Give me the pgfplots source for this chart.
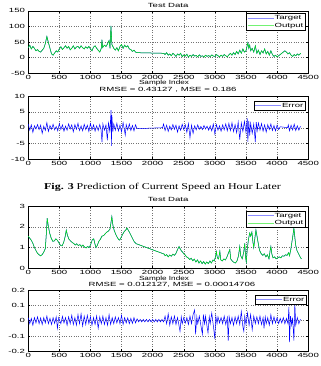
\documentclass[border=0pt]{standalone}
\usepackage{fontspec}
\setmainfont{Liberation Sans}[FakeStretch=1.6]
\newfontfamily\capfont{Liberation Serif}[FakeStretch=1.33]
\usepackage{pgfplots}
\pgfplotsset{compat=1.18}
\usepackage{pgfplotstable}

\definecolor{mblue}{rgb}{0,0,1}
\definecolor{lblue}{rgb}{0.55,0.55,1}
\definecolor{mgreen}{rgb}{0,0.95,0}
\definecolor{lgreen}{rgb}{0.45,0.95,0.45}
\newcommand\mf{\fontsize{6bp}{7bp}\selectfont}

\pgfplotstableread{
x y
0 32
25 40
50 28
75 36
100 30
125 22
150 26
175 20
200 18
225 24
250 30
275 45
300 68
325 48
350 30
375 12
400 8
425 15
450 22
475 18
500 28
525 35
550 26
575 32
600 38
625 30
650 36
675 25
700 30
725 38
750 28
775 34
800 36
825 30
850 38
875 32
900 28
925 35
950 30
975 36
1000 28
1025 22
1050 34
1075 38
1100 30
1125 24
1150 18
1175 30
1185 58
1195 32
1225 40
1250 36
1275 44
1300 55
1315 30
1330 102
1345 42
1375 30
1400 24
1425 32
1450 22
1475 36
1500 42
1525 30
1550 40
1575 34
1600 38
1625 28
1650 26
1675 20
1700 24
1725 18
1750 16
2180 14
2200 10
2225 16
2250 8
2275 12
2300 6
2325 14
2350 10
2375 4
2400 12
2425 8
2450 14
2475 3
2500 9
2525 5
2550 11
2575 2
2600 8
2625 4
2650 10
2675 5
2700 7
2725 3
2750 9
2775 4
2800 6
2825 2
2850 8
2875 4
2900 7
2925 3
2950 9
2975 5
3000 4
3025 10
3050 6
3075 3
3100 8
3125 4
3150 10
3175 6
3200 3
3225 9
3250 14
3275 8
3300 16
3325 10
3350 20
3375 12
3400 24
3425 14
3450 28
3475 18
3500 22
3515 35
3530 48
3545 30
3560 40
3575 22
3600 30
3625 18
3650 38
3675 14
3700 24
3725 10
3750 22
3775 15
3800 28
3825 12
3850 20
3875 8
3900 22
3925 10
3950 4
3975 8
4000 3
4025 6
4050 10
4075 14
4100 18
4125 22
4150 18
4175 12
4200 16
4225 8
4250 4
4275 10
4300 6
4325 12
4350 8
4380 14
}\speedA

\pgfplotstableread{
x y
0 1.2
25 -0.8
50 0.9
75 -1.5
100 0.6
125 -0.4
150 1.0
175 -0.6
200 0.8
225 -1.8
250 0.5
275 -0.9
300 1.6
325 -1.2
350 0.7
375 -0.5
400 1.1
425 -0.7
450 0.4
475 -1.0
500 1.3
525 -0.6
550 0.9
575 -1.1
600 0.5
625 -0.8
650 1.2
675 -0.4
700 0.9
725 -1.3
750 1.0
775 -0.5
800 1.4
825 -0.9
850 0.6
875 -1.0
900 1.1
925 -0.6
950 0.8
975 -1.2
1000 1.3
1025 -0.7
1050 0.9
1075 -1.1
1100 0.6
1125 -0.9
1150 1.0
1170 -0.5
1186 -4.6
1200 1.2
1225 -0.8
1250 0.9
1272 -4.0
1290 1.5
1310 -1.0
1325 3.0
1331 5.6
1337 -5.8
1345 4.0
1360 -1.4
1375 1.2
1400 -0.8
1425 1.4
1450 -1.0
1475 0.8
1500 -1.3
1525 1.6
1545 -0.6
1560 -2.4
1575 1.0
1600 -0.7
1625 1.2
1650 -0.9
1675 0.7
1700 -1.0
1725 0.9
1750 -0.3
2160 0
2175 1.2
2200 -0.9
2225 0.8
2250 -1.2
2275 0.5
2300 -0.7
2325 1.0
2350 -0.5
2375 0.8
2400 -1.4
2425 0.6
2450 -0.8
2475 1.1
2500 -0.6
2525 0.9
2550 -1.5
2575 1.3
2600 -3.2
2625 0.8
2650 -1.8
2675 0.6
2700 -0.7
2725 0.9
2750 -0.5
2775 0.4
2800 -0.6
2825 0.7
2850 -0.4
2875 0.5
2900 -0.8
2925 0.6
2950 -1.0
2975 1.2
3000 -2.0
3025 1.0
3050 -0.8
3075 0.6
3100 -1.1
3125 0.9
3150 -0.7
3175 1.2
3200 -1.0
3225 1.4
3250 -0.9
3275 1.6
3300 -1.2
3325 1.0
3350 -1.6
3375 1.8
3400 -3.8
3425 1.5
3450 -1.2
3475 2.0
3500 -1.5
3520 3.0
3530 -4.5
3545 2.2
3560 -2.5
3575 1.4
3600 -1.8
3625 1.2
3650 -4.6
3665 1.8
3680 -1.0
3700 1.5
3725 -0.8
3750 1.3
3775 -1.1
3800 0.9
3825 -1.4
3850 1.0
3875 -0.6
3900 1.2
3925 -0.9
3950 0.7
3975 -1.0
4000 0.8
4025 -0.6
4050 0.3
4170 0
4180 0.9
4200 -1.0
4225 0.8
4250 -0.7
4275 1.1
4300 -0.9
4325 0.6
4350 -0.8
4375 0.5
}\errA

\pgfplotstableread{
x y
0 1.55
25 1.45
50 1.35
75 1.2
100 1.0
125 0.85
150 0.72
175 0.65
200 0.6
225 0.66
250 0.78
275 0.95
290 1.6
305 2.42
320 2.1
345 1.7
370 1.45
395 1.3
420 1.32
445 1.42
470 1.35
495 1.22
520 1.1
545 1.08
570 1.25
595 1.55
612 1.84
630 1.6
655 1.4
680 1.32
705 1.25
730 1.2
755 1.12
780 1.18
805 1.1
830 1.14
855 1.05
880 1.12
905 1.02
930 0.98
955 1.05
980 1.0
1005 1.15
1030 1.38
1053 1.42
1075 1.15
1090 1.0
1110 1.1
1135 1.3
1160 1.4
1185 1.55
1213 1.58
1240 1.68
1265 1.75
1290 1.8
1315 1.9
1330 2.2
1344 2.5
1360 2.1
1380 1.85
1405 1.65
1430 1.5
1455 1.38
1470 1.36
1495 1.5
1520 1.65
1545 1.78
1570 1.85
1586 1.95
1600 1.88
1625 1.75
1650 1.6
1675 1.45
1700 1.3
1732 1.19
2188 0.68
2200 0.6
2225 0.66
2250 0.55
2275 0.64
2300 0.58
2325 0.68
2350 0.62
2375 0.72
2400 0.9
2425 1.05
2440 0.95
2460 0.85
2480 0.78
2500 0.7
2520 0.65
2545 0.55
2570 0.5
2595 0.42
2620 0.48
2645 0.36
2670 0.44
2695 0.3
2720 0.4
2745 0.25
2770 0.35
2795 0.22
2820 0.32
2845 0.2
2870 0.3
2895 0.22
2920 0.35
2945 0.25
2970 0.4
2990 0.35
3010 0.55
3025 0.8
3040 0.5
3060 0.45
3080 0.82
3095 0.4
3120 0.35
3145 0.45
3170 0.4
3195 0.55
3220 0.75
3240 0.9
3255 0.45
3280 0.35
3305 0.28
3330 0.25
3355 0.35
3380 0.6
3400 1.05
3415 0.6
3440 0.45
3465 0.8
3480 1.2
3495 0.5
3505 0.3
3520 0.9
3540 1.4
3560 1.7
3575 1.55
3595 1.75
3610 1.3
3625 1.0
3645 1.5
3660 1.85
3680 1.5
3700 1.15
3720 0.85
3745 0.7
3770 0.62
3795 0.7
3820 0.55
3845 0.65
3870 0.45
3885 0.8
3900 1.05
3915 0.7
3935 0.5
3960 0.55
3985 0.45
4010 0.5
4035 0.55
4060 0.5
4085 0.6
4110 0.58
4135 0.65
4160 0.62
4185 0.75
4200 0.6
4220 0.9
4240 1.3
4255 1.6
4270 1.95
4285 1.5
4300 1.1
4320 0.85
4345 0.7
4370 0.55
4390 0.45
}\speedB

\pgfplotstableread{
x y
0 0.02
25 -0.02
50 0.015
75 -0.03
100 0.02
125 -0.015
150 0.025
175 -0.02
200 0.018
225 -0.025
250 0.02
275 -0.015
300 0.03
325 -0.02
350 0.015
375 -0.025
400 0.02
425 -0.018
450 0.025
470 -0.05
490 0.02
525 -0.02
550 0.028
575 -0.015
600 0.02
625 -0.03
650 0.025
675 -0.02
700 0.035
725 -0.025
750 0.02
775 -0.03
800 0.04
825 -0.02
850 0.045
875 -0.035
900 0.03
925 -0.025
950 0.035
975 -0.02
1000 0.025
1025 -0.03
1050 0.02
1075 -0.025
1100 0.03
1125 -0.05
1150 0.025
1175 -0.02
1200 0.03
1225 -0.025
1250 0.02
1275 -0.03
1300 0.04
1325 -0.025
1350 0.02
1375 -0.02
1400 0.025
1425 -0.015
1450 0.02
1475 -0.02
1500 0.035
1525 -0.025
1550 0.02
1575 -0.015
1600 0.018
1625 -0.02
1650 0.015
1675 -0.018
1700 0.02
1725 -0.015
1750 0.012
1775 -0.008
1800 0.008
1825 -0.008
1850 0.008
1875 -0.008
1900 0.008
1925 -0.008
1950 0.008
1975 -0.008
2000 0.008
2025 -0.008
2050 0.008
2075 -0.008
2100 0.008
2125 -0.008
2150 0.008
2175 -0.008
2200 0.03
2225 -0.02
2250 0.045
2275 -0.03
2300 0.025
2325 -0.02
2350 0.03
2375 -0.025
2400 0.02
2425 -0.035
2440 -0.07
2460 0.025
2475 -0.02
2500 0.02
2525 -0.015
2550 0.02
2575 -0.025
2600 0.03
2625 -0.02
2650 0.04
2675 0.07
2690 -0.09
2710 0.025
2725 -0.02
2750 0.03
2775 -0.03
2800 -0.09
2815 0.04
2835 -0.02
2850 0.03
2875 -0.04
2890 -0.08
2910 0.025
2925 -0.02
2950 0.05
2975 -0.03
3000 -0.12
3015 0.03
3035 -0.02
3050 0.025
3075 -0.015
3100 0.02
3125 -0.02
3150 0.03
3175 -0.025
3200 0.02
3215 -0.13
3230 0.025
3250 -0.02
3275 0.02
3300 -0.03
3325 0.025
3350 -0.02
3375 0.03
3400 -0.025
3425 0.06
3450 -0.04
3465 -0.07
3480 0.03
3500 -0.025
3525 0.05
3550 -0.03
3575 0.04
3600 -0.06
3625 0.03
3650 -0.02
3675 0.025
3700 -0.02
3725 0.03
3750 -0.025
3775 0.02
3790 -0.05
3810 0.025
3825 -0.02
3850 0.02
3875 -0.03
3900 0.04
3925 -0.02
3950 0.025
3975 -0.015
4000 0.02
4025 -0.02
4050 0.015
4075 -0.015
4100 0.02
4125 -0.02
4150 0.015
4175 -0.02
4190 0.09
4200 -0.14
4215 0.03
4235 -0.03
4250 0.02
4270 -0.13
4285 0.11
4300 -0.03
4325 0.02
4350 -0.02
4375 0.01
}\errB

\pgfplotsset{
  mstyle/.style={
    scale only axis, width=280bp,
    xmin=0, xmax=4500,
    xtick={0,500,...,4500},
    xticklabels={0,500,1000,1500,2000,2500,3000,3500,4000,4500},
    tick align=inside, major tick length=2bp,
    tick style={black, line width=0.4bp},
    grid=major, grid style={dotted, black!55, line width=0.4bp},
    axis line style={black, line width=0.5bp},
    every tick label/.append style={font=\mf, inner sep=0pt},
    xticklabel style={anchor=north, yshift=-1.5bp},
    yticklabel style={anchor=east, xshift=-3bp},
    legend cell align=left,
    legend style={font=\mf, draw=black, fill=white, line width=0.4bp, inner sep=0.8bp,
      nodes={inner sep=0.6bp, text height=4.8bp, text depth=1.4bp}, row sep=0bp,
      anchor=north east},
    legend image code/.code={\path[#1] (1.5bp,0bp) -- (27.5bp,0bp);},
  }
}

\begin{document}
\begin{tikzpicture}
\useasboundingbox (0,0) rectangle (321bp,-366bp);
\fill[white] (0,0) rectangle (321bp,-366bp);

\begin{axis}[mstyle, at={(28.2bp,-73.3bp)}, anchor=south west, height=62.5bp,
  ymin=-50, ymax=150, ytick={-50,0,50,100,150}, yticklabels={-50,0,50,100,150},
  legend style={at={(0.9886,0.96)}}]
\addplot[draw=mblue, line width=0.5bp, legend image post style={draw=lblue, line width=0.6bp}] table {\speedA};
\addplot[draw=mgreen, line width=0.5bp, legend image post style={draw=lgreen, line width=0.6bp}] table {\speedA};
\legend{Target,Output}
\end{axis}

\begin{axis}[mstyle, at={(28.2bp,-159.2bp)}, anchor=south west, height=63bp,
  ymin=-10, ymax=10, ytick={-10,-5,0,5,10}, yticklabels={-10,-5,0,5,10},
  legend style={at={(0.9886,0.924)}}]
\addplot[draw=mblue, line width=0.5bp, legend image post style={draw=lblue, line width=0.6bp}] table {\errA};
\legend{Error}
\end{axis}

\begin{axis}[mstyle, at={(28.2bp,-268.2bp)}, anchor=south west, height=62bp,
  ymin=0, ymax=3, ytick={0,1,2,3}, yticklabels={0,1,2,3},
  legend style={at={(0.9886,0.923)}}]
\addplot[draw=mblue, line width=0.5bp, legend image post style={draw=lblue, line width=0.6bp}] table {\speedB};
\addplot[draw=mgreen, line width=0.5bp, legend image post style={draw=lgreen, line width=0.6bp}] table {\speedB};
\legend{Target,Output}
\end{axis}

\begin{axis}[mstyle, at={(28.2bp,-351.3bp)}, anchor=south west, height=61.3bp,
  ymin=-0.2, ymax=0.2, ytick={-0.2,-0.1,0,0.1,0.2}, yticklabels={-0.2,-0.1,0,0.1,0.2},
  legend style={at={(0.9921,0.918)}}]
\addplot[draw=mblue, line width=0.5bp, legend image post style={draw=lblue, line width=0.6bp}] table {\errB};
\legend{Error}
\end{axis}

\node[font=\mf, inner sep=0pt] at (168.2bp,-5.3bp) {Test Data};
\node[font=\mf, inner sep=0pt] at (164bp,-83bp) {\scalebox{0.85}[1]{Sample Index}};
\node[font=\mf, inner sep=0pt] at (168bp,-89.3bp) {RMSE = 0.43127 , MSE = 0.186};
\node[font=\capfont\fontsize{9bp}{10bp}\selectfont, inner sep=0pt] at (162.5bp,-187bp) {\textbf{Fig. 3} Prediction of Current Speed an Hour Later};
\node[font=\mf, inner sep=0pt] at (168.2bp,-199.5bp) {Test Data};
\node[font=\mf, inner sep=0pt] at (164bp,-278.5bp) {\scalebox{0.85}[1]{Sample Index}};
\node[font=\mf, inner sep=0pt] at (172bp,-284.8bp) {RMSE = 0.012127, MSE = 0.00014706};
\end{tikzpicture}
\end{document}
